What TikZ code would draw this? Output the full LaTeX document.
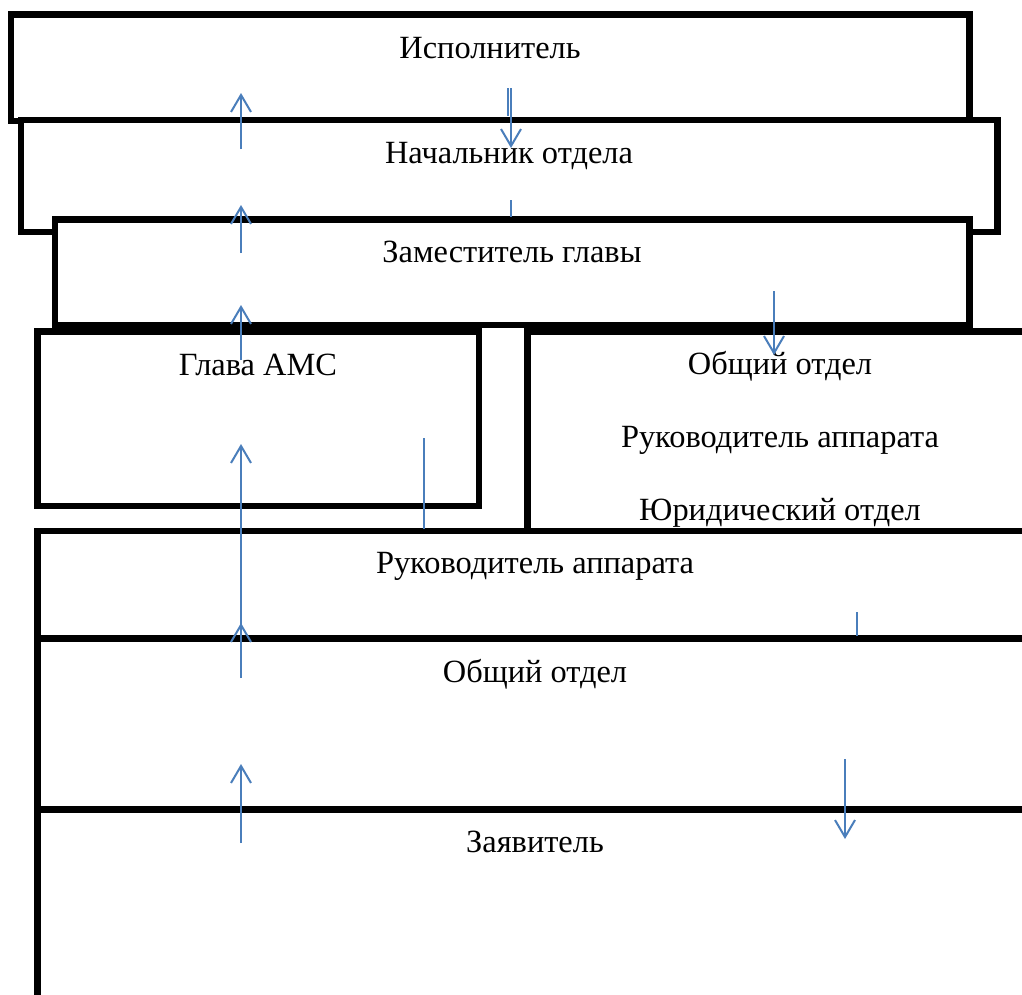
\documentclass[tikz,border=0pt]{standalone}
\usepackage{fontspec}
\setmainfont{Liberation Serif}
\usetikzlibrary{arrows.meta}
\definecolor{arrowblue}{HTML}{4A7EBB}
\begin{document}
\begin{tikzpicture}[x=1pt,y=-1pt,
  box/.style={draw=black,fill=white,line width=6.5pt},
  lbl/.style={anchor=base,inner sep=0pt,font=\fontsize{32.4}{37}\selectfont},
  flow/.style={draw=arrowblue,line width=2pt,-{Straight Barb[length=17pt,width=20pt]}},
  seg/.style={draw=arrowblue,line width=2pt}]
\useasboundingbox (0,0) rectangle (1022,994);
\clip (0,0) rectangle (1022,994);
\fill[white] (0,0) rectangle (1022,994);
% boxes
\draw[box] (11,14.5) rectangle (969.5,121);
\draw[box] (21,120) rectangle (997.5,232);
\draw[box] (55,219.5) rectangle (969.5,325);
\draw[box] (37.5,331.5) rectangle (479,506);
\draw[box] (527.5,331.5) rectangle (1050,560);
\draw[box] (37.5,531) rectangle (1050,638.5);
\draw[box] (37.5,638.5) rectangle (1050,809.5);
\draw[box] (37.5,809.5) rectangle (1050,1020);
% labels
\node[lbl] (isp) at (490,58) {Исполнитель};
\node[lbl] (nach) at (509,163) {Начальник отдела};
\node[lbl] (zam) at (512,262) {Заместитель главы};
\node[lbl] (glava) at (258,375) {Глава АМС};
\node[lbl] (obsh1) at (780,374) {Общий отдел};
\node[lbl] (ruk1) at (780,447) {Руководитель аппарата};
\node[lbl] (yur) at (780,520) {Юридический отдел};
\node[lbl] (ruk2) at (535,573) {Руководитель аппарата};
\node[lbl] (obsh2) at (535,682) {Общий отдел};
\node[lbl] (zay) at (535,852) {Заявитель};
% arrow end points
\coordinate (a1s) at (241,149); \coordinate (a1e) at (241,93);
\coordinate (a2s) at (511,88);  \coordinate (a2e) at (511,148);
\coordinate (a2bs) at (508,88); \coordinate (a2be) at (508,116);
\coordinate (a3s) at (511,200); \coordinate (a3e) at (511,217);
\coordinate (a4s) at (241,253); \coordinate (a4e) at (241,205);
\coordinate (a5s) at (241,360); \coordinate (a5e) at (241,305);
\coordinate (a6s) at (774,291); \coordinate (a6e) at (774,355);
\coordinate (a7s) at (424,438); \coordinate (a7e) at (424,529);
\coordinate (a8s) at (241,634); \coordinate (a8e) at (241,444);
\coordinate (a9s) at (241,678); \coordinate (a9e) at (241,623);
\coordinate (a10s) at (857,612); \coordinate (a10e) at (857,636);
\coordinate (a11s) at (241,843); \coordinate (a11e) at (241,764);
\coordinate (a12s) at (845,759); \coordinate (a12e) at (845,839);
% arrows
\draw[flow] (a1s) -- (a1e);
\draw[flow] (a2s) -- (a2e);
\draw[seg] (a2bs) -- (a2be);
\draw[seg] (a3s) -- (a3e);
\draw[flow] (a4s) -- (a4e);
\draw[flow] (a5s) -- (a5e);
\draw[flow] (a6s) -- (a6e);
\draw[seg] (a7s) -- (a7e);
\draw[flow] (a8s) -- (a8e);
\draw[flow] (a9s) -- (a9e);
\draw[seg] (a10s) -- (a10e);
\draw[flow] (a11s) -- (a11e);
\draw[flow] (a12s) -- (a12e);
\end{tikzpicture}
\end{document}
